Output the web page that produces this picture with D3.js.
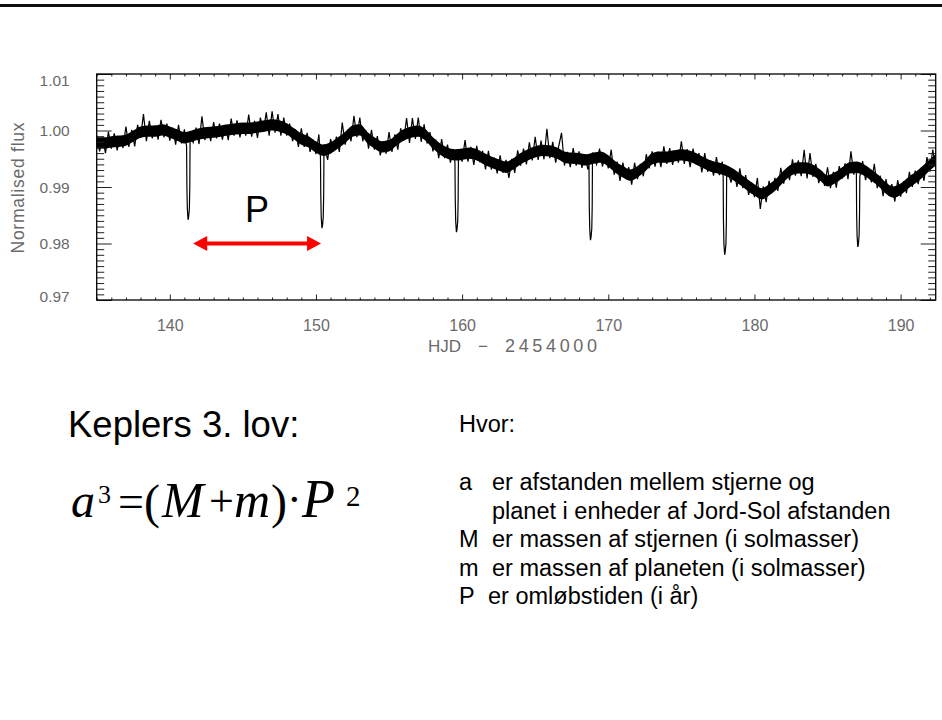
<!DOCTYPE html>
<html>
<head>
<meta charset="utf-8">
<script src="https://cdn.jsdelivr.net/npm/d3@7"></script>
<style>
  html, body { margin: 0; padding: 0; background: #fff; }
  svg { display: block; }
</style>
</head>
<body>
<svg id="chart" width="942" height="720"></svg>
<script>
// ---- Light curve: [HJD - 2454000, normalised flux] ----
const lightCurve = [
  [135.0,0.9991],[135.2,0.9963],[135.4,0.9988],[135.6,0.9960],[135.8,0.9998],[136.0,0.9968],[136.2,0.9995],[136.4,0.9965],
  [136.6,0.9990],[136.8,0.9969],[137.0,1.0007],[137.2,0.9971],[137.4,1.0001],[137.6,0.9972],[137.8,1.0010],[138.0,0.9987],
  [138.2,1.0029],[138.4,0.9981],[138.6,1.0017],[138.8,0.9986],[139.0,1.0009],[139.2,0.9984],[139.4,1.0019],[139.6,0.9988],
  [139.8,1.0012],[140.0,0.9982],[140.2,1.0005],[140.4,0.9975],[140.6,1.0010],[140.8,0.9977],[141.0,1.0002],
  [141.15,0.9972],[141.17,0.9902],[141.2,0.9862],[141.25,0.9842],[141.29,0.9847],[141.34,0.9862],[141.37,0.9902],[141.39,0.9992],
  [141.6,0.9979],[141.8,1.0005],[142.0,0.9976],[142.2,1.0025],[142.4,0.9983],[142.6,1.0006],[142.8,0.9981],[143.0,1.0015],
  [143.2,0.9986],[143.4,1.0012],[143.6,0.9984],[143.8,1.0010],[144.0,0.9983],[144.2,1.0021],[144.4,0.9991],[144.6,1.0018],
  [144.8,0.9988],[145.0,1.0013],[145.2,0.9991],[145.4,1.0028],[145.6,0.9989],[145.8,1.0017],[146.0,0.9987],[146.2,1.0023],
  [146.4,0.9998],[146.6,1.0032],[146.8,0.9991],[147.0,1.0034],[147.2,0.9996],[147.4,1.0029],[147.6,0.9991],[147.8,1.0023],
  [148.0,0.9991],[148.2,1.0012],[148.4,0.9981],[148.6,1.0002],[148.8,0.9971],[149.0,1.0004],[149.2,0.9971],[149.4,0.9996],
  [149.6,0.9962],[149.8,0.9984],[150.0,0.9958],[150.2,0.9993],
  [150.31,0.9952],[150.33,0.9887],[150.36,0.9847],[150.41,0.9827],[150.45,0.9832],[150.5,0.9847],[150.53,0.9887],[150.55,0.9976],
  [150.8,0.9948],[151.0,0.9985],[151.2,0.9963],[151.4,0.9989],[151.6,0.9962],[151.8,1.0014],[152.0,0.9975],[152.2,1.0002],
  [152.4,0.9981],[152.6,1.0026],[152.8,0.9988],[153.0,1.0023],[153.2,0.9981],[153.4,1.0001],[153.6,0.9968],[153.8,1.0001],
  [154.0,0.9966],[154.2,0.9990],[154.4,0.9956],[154.6,0.9980],[154.8,0.9959],[155.0,0.9997],[155.2,0.9962],[155.4,0.9993],
  [155.6,0.9966],[155.8,1.0004],[156.0,0.9982],[156.2,1.0022],[156.4,0.9978],[156.6,1.0022],[156.8,0.9985],[157.0,1.0023],
  [157.2,0.9980],[157.4,1.0011],[157.6,0.9977],[157.8,0.9997],[158.0,0.9963],[158.2,0.9984],[158.4,0.9951],[158.6,0.9985],
  [158.8,0.9951],[159.0,0.9975],[159.2,0.9943],[159.4,0.9967],
  [159.51,0.9943],[159.53,0.9880],[159.56,0.9840],[159.61,0.9820],[159.65,0.9825],[159.7,0.9840],[159.73,0.9880],[159.75,0.9965],
  [160.0,0.9945],[160.2,0.9983],[160.4,0.9945],[160.6,0.9971],[160.8,0.9939],[161.0,0.9973],[161.2,0.9944],[161.4,0.9964],
  [161.6,0.9931],[161.8,0.9964],[162.0,0.9931],[162.2,0.9952],[162.4,0.9924],[162.6,0.9956],[162.8,0.9925],[163.0,0.9948],
  [163.2,0.9916],[163.4,0.9950],[163.6,0.9925],[163.8,0.9965],[164.0,0.9938],[164.2,0.9968],[164.4,0.9940],[164.6,0.9979],
  [164.8,0.9947],[165.0,0.9989],[165.2,0.9948],[165.4,0.9982],[165.6,0.9949],[165.8,1.0003],[166.0,0.9951],[166.2,0.9980],
  [166.4,0.9943],[166.6,0.9971],[166.8,0.9996],[167.0,0.9938],[167.2,0.9962],[167.4,0.9935],[167.6,0.9969],[167.8,0.9938],
  [168.0,0.9963],[168.2,0.9934],[168.4,0.9958],[168.6,0.9931],
  [168.68,0.9940],[168.7,0.9866],[168.73,0.9826],[168.78,0.9806],[168.82,0.9811],[168.87,0.9826],[168.9,0.9866],[168.92,0.9961],
  [169.2,0.9940],[169.4,0.9968],[169.6,0.9936],[169.8,0.9958],[170.0,0.9933],[170.2,0.9966],[170.4,0.9922],[170.6,0.9945],
  [170.8,0.9911],[171.0,0.9943],[171.2,0.9915],[171.4,0.9935],[171.6,0.9904],[171.8,0.9943],[172.0,0.9914],[172.2,0.9941],
  [172.4,0.9919],[172.6,0.9958],[172.8,0.9933],[173.0,0.9963],[173.2,0.9936],[173.4,0.9962],[173.6,0.9935],[173.8,0.9972],
  [174.0,0.9941],[174.2,0.9969],[174.4,0.9939],[174.6,0.9964],[174.8,0.9943],[175.0,0.9981],[175.2,0.9941],[175.4,0.9967],
  [175.6,0.9935],[175.8,0.9968],[176.0,0.9940],[176.2,0.9960],[176.4,0.9926],[176.6,0.9960],[176.8,0.9927],[177.0,0.9947],
  [177.2,0.9920],[177.4,0.9953],[177.6,0.9921],[177.8,0.9945],
  [177.86,0.9918],[177.88,0.9840],[177.91,0.9800],[177.96,0.9780],[178.0,0.9785],[178.05,0.9800],[178.08,0.9840],[178.1,0.9936],
  [178.4,0.9908],[178.6,0.9931],[178.8,0.9900],[179.0,0.9933],[179.2,0.9898],[179.4,0.9921],[179.6,0.9886],[179.8,0.9908],
  [180.0,0.9882],[180.2,0.9916],[180.4,0.9861],[180.6,0.9901],[180.8,0.9873],[181.0,0.9911],[181.2,0.9889],[181.4,0.9916],
  [181.6,0.9893],[181.8,0.9934],[182.0,0.9906],[182.2,0.9933],[182.4,0.9912],[182.6,0.9949],[182.8,0.9920],[183.0,0.9947],
  [183.2,0.9919],[183.4,0.9966],[183.6,0.9915],[183.8,0.9960],[184.0,0.9918],[184.2,0.9941],[184.4,0.9907],[184.6,0.9928],
  [184.8,0.9902],[185.0,0.9935],[185.2,0.9898],[185.4,0.9927],[185.6,0.9899],[185.8,0.9937],[186.0,0.9915],[186.2,0.9942],
  [186.4,0.9914],[186.6,0.9963],[186.8,0.9922],
  [186.97,0.9942],[186.99,0.9854],[187.02,0.9814],[187.07,0.9794],[187.11,0.9799],[187.16,0.9814],[187.19,0.9854],[187.21,0.9918],
  [187.4,0.9946],[187.6,0.9912],[187.8,0.9934],[188.0,0.9908],[188.2,0.9941],[188.4,0.9898],[188.6,0.9920],[188.8,0.9884],
  [189.0,0.9914],[189.2,0.9885],[189.4,0.9905],[189.6,0.9874],[189.8,0.9912],[190.0,0.9883],[190.2,0.9910],[190.4,0.9889],
  [190.6,0.9927],[190.8,0.9900],[191.0,0.9929],[191.2,0.9905],[191.4,0.9934],[191.6,0.9911],[191.8,0.9953],[192.0,0.9927],
  [192.2,0.9966],[192.4,0.9933]
];

// ---- Smoothed stellar variability underneath the scatter ----
const trendHjd = [
  135.0,135.5,136.0,136.5,137.0,137.5,138.0,138.5,139.0,139.5,140.0,140.5,141.0,141.5,142.0,142.5,143.0,143.5,144.0,144.5,
  145.0,145.5,146.0,146.5,147.0,147.5,148.0,148.5,149.0,149.5,150.0,150.5,151.0,151.5,152.0,152.5,153.0,153.5,154.0,154.5,
  155.0,155.5,156.0,156.5,157.0,157.5,158.0,158.5,159.0,159.5,160.0,160.5,161.0,161.5,162.0,162.5,163.0,163.5,164.0,164.5,
  165.0,165.5,166.0,166.5,167.0,167.5,168.0,168.5,169.0,169.5,170.0,170.5,171.0,171.5,172.0,172.5,173.0,173.5,174.0,174.5,
  175.0,175.5,176.0,176.5,177.0,177.5,178.0,178.5,179.0,179.5,180.0,180.5,181.0,181.5,182.0,182.5,183.0,183.5,184.0,184.5,
  185.0,185.5,186.0,186.5,187.0,187.5,188.0,188.5,189.0,189.5,190.0,190.5,191.0,191.5,192.0,192.4
];
const trendFlux = [
  0.9978,0.9978,0.9980,0.9981,0.9983,0.9990,0.9997,0.9999,0.9999,1.0001,0.9997,0.9992,0.9987,0.9990,0.9994,0.9996,0.9997,0.9999,1.0001,1.0003,
  1.0004,1.0004,1.0006,1.0008,1.0010,1.0008,1.0003,0.9994,0.9985,0.9980,0.9971,0.9965,0.9969,0.9978,0.9988,0.9999,1.0001,0.9988,0.9978,0.9971,
  0.9973,0.9983,0.9992,0.9997,0.9999,0.9992,0.9978,0.9967,0.9960,0.9957,0.9958,0.9960,0.9957,0.9950,0.9944,0.9939,0.9935,0.9941,0.9950,0.9957,
  0.9962,0.9965,0.9964,0.9960,0.9953,0.9951,0.9950,0.9948,0.9951,0.9953,0.9946,0.9935,0.9927,0.9921,0.9927,0.9937,0.9950,0.9953,0.9953,0.9955,
  0.9957,0.9955,0.9950,0.9943,0.9937,0.9934,0.9930,0.9923,0.9914,0.9904,0.9895,0.9888,0.9895,0.9905,0.9919,0.9930,0.9934,0.9934,0.9930,0.9921,
  0.9911,0.9916,0.9925,0.9934,0.9935,0.9930,0.9921,0.9911,0.9898,0.9891,0.9896,0.9907,0.9916,0.9927,0.9939,0.9948
];
const scatterHalfWidth = 0.0010;

// ---- Axes ----
const xDomain = [135.0, 192.4];
const yDomain = [0.97, 1.01];
const xTicks = [140, 150, 160, 170, 180, 190];
const yTicks = [0.97, 0.98, 0.99, 1.00, 1.01];
const xLabelParts = ["HJD", "\u2212", "2454000"];
const yLabel = "Normalised flux";

// ---- Orbital period annotation (between the first two transits) ----
const periodSpan = [141.6, 150.35];
const periodFlux = 0.98;
const periodLabel = "P";

// ---- Text block ----
const heading = "Keplers 3. lov:";
const whereHeading = "Hvor:";
const symbols = ["a", "", "M", "m", "P"];
const meanings = [
  "er afstanden mellem stjerne og",
  "planet i enheder af Jord-Sol afstanden",
  "er massen af stjernen (i solmasser)",
  "er massen af planeten (i solmasser)",
  "er oml\u00f8bstiden (i \u00e5r)"
];

const svg = d3.select("#chart");
const plot = { left: 96.7, right: 935.7, top: 74, bottom: 300 };

// Page rule at the top
svg.append("rect").attr("x", 0).attr("y", 4).attr("width", 942).attr("height", 3).attr("fill", "#111");

const x = d3.scaleLinear().domain(xDomain).range([plot.left, plot.right]);
const y = d3.scaleLinear().domain(yDomain).range([plot.bottom, plot.top]);

svg.append("clipPath").attr("id", "plotClip")
  .append("rect")
  .attr("x", plot.left).attr("y", plot.top)
  .attr("width", plot.right - plot.left).attr("height", plot.bottom - plot.top);

const g = svg.append("g").attr("clip-path", "url(#plotClip)");

// Dense core of the photometric scatter
const trend = trendHjd.map((t, i) => [t, trendFlux[i]]);
g.append("path")
  .datum(trend)
  .attr("fill", "#000")
  .attr("d", d3.area()
    .x(d => x(d[0]))
    .y0(d => y(d[1] - scatterHalfWidth))
    .y1(d => y(d[1] + scatterHalfWidth))
    .curve(d3.curveMonotoneX));

// Observed light curve
g.append("path")
  .datum(lightCurve)
  .attr("fill", "none")
  .attr("stroke", "#000")
  .attr("stroke-width", 1.2)
  .attr("stroke-linejoin", "miter")
  .attr("d", d3.line().x(d => x(d[0])).y(d => y(d[1])));

// Axes: majors with labels, minors unlabeled, mirrored on top/right
const tickColor = "#222";
const labelColor = "#6a6a6a";
const labelFont = "Liberation Sans, Arial, sans-serif";

const yMinor = d3.range(0.971, 1.0095, 0.001).filter(v => Math.abs(Math.round(v * 100) - v * 100) > 1e-6);
const xMinor = d3.range(135, 193, 1).filter(v => v % 10 !== 0);

function styleAxis(sel) {
  sel.select(".domain").remove();
  sel.selectAll(".tick line").attr("stroke", tickColor).attr("stroke-width", 1);
}

// left
svg.append("g").attr("transform", `translate(${plot.left},0)`)
  .call(d3.axisLeft(y).tickValues(yTicks).tickSize(-15).tickPadding(27).tickFormat(d3.format(".2f")))
  .call(styleAxis)
  .call(s => s.selectAll("text")
    .attr("fill", labelColor).attr("font-size", 15.5).attr("font-family", labelFont)
    .attr("dy", d => d === yDomain[1] ? "0.75em" : (d === yDomain[0] ? "0.1em" : "0.34em")));
svg.append("g").attr("transform", `translate(${plot.left},0)`)
  .call(d3.axisLeft(y).tickValues(yMinor).tickSize(-7.5).tickFormat(""))
  .call(styleAxis);
// right
svg.append("g").attr("transform", `translate(${plot.right},0)`)
  .call(d3.axisRight(y).tickValues(yTicks).tickSize(-15).tickFormat(""))
  .call(styleAxis);
svg.append("g").attr("transform", `translate(${plot.right},0)`)
  .call(d3.axisRight(y).tickValues(yMinor).tickSize(-7.5).tickFormat(""))
  .call(styleAxis);
// bottom
svg.append("g").attr("transform", `translate(0,${plot.bottom})`)
  .call(d3.axisBottom(x).tickValues(xTicks).tickSize(-5.5).tickPadding(20).tickFormat(d3.format("d")))
  .call(styleAxis)
  .call(s => s.selectAll("text")
    .attr("fill", labelColor).attr("font-size", 16).attr("font-family", labelFont));
svg.append("g").attr("transform", `translate(0,${plot.bottom})`)
  .call(d3.axisBottom(x).tickValues(xMinor).tickSize(-2.5).tickFormat(""))
  .call(styleAxis);
// top
svg.append("g").attr("transform", `translate(0,${plot.top})`)
  .call(d3.axisTop(x).tickValues(xTicks).tickSize(-5.5).tickFormat(""))
  .call(styleAxis);
svg.append("g").attr("transform", `translate(0,${plot.top})`)
  .call(d3.axisTop(x).tickValues(xMinor).tickSize(-2.5).tickFormat(""))
  .call(styleAxis);

// frame
svg.append("rect")
  .attr("x", plot.left).attr("y", plot.top)
  .attr("width", plot.right - plot.left).attr("height", plot.bottom - plot.top)
  .attr("fill", "none").attr("stroke", "#000").attr("stroke-width", 1.3);

// axis titles
const xTitle = svg.append("text")
  .attr("y", 352)
  .attr("font-family", labelFont).attr("font-size", 17)
  .attr("fill", labelColor);
xTitle.append("tspan").attr("x", 428).text(xLabelParts[0]);
xTitle.append("tspan").attr("x", 478).text(xLabelParts[1]);
xTitle.append("tspan").attr("x", 505).attr("font-size", 18).attr("textLength", 92).attr("lengthAdjust", "spacing").text(xLabelParts[2]);

svg.append("text")
  .attr("transform", `translate(24,${(y(0.97) + y(1.01)) / 2 + 1}) rotate(-90)`)
  .attr("text-anchor", "middle")
  .attr("font-family", labelFont).attr("font-size", 17.5)
  .attr("fill", labelColor)
  .attr("textLength", 131).attr("lengthAdjust", "spacing")
  .text(yLabel);

// period arrow
const red = "#ff0000";
const ax0 = x(periodSpan[0]), ax1 = x(periodSpan[1]), ay = y(periodFlux);
const headLen = 14, headHalf = 7.5;
svg.append("line")
  .attr("x1", ax0 + headLen - 1).attr("x2", ax1 - headLen + 1)
  .attr("y1", ay).attr("y2", ay)
  .attr("stroke", red).attr("stroke-width", 4);
svg.append("path")
  .attr("fill", red)
  .attr("d", `M${ax0},${ay} L${ax0 + headLen},${ay - headHalf} L${ax0 + headLen},${ay + headHalf} Z`);
svg.append("path")
  .attr("fill", red)
  .attr("d", `M${ax1},${ay} L${ax1 - headLen},${ay - headHalf} L${ax1 - headLen},${ay + headHalf} Z`);
svg.append("text")
  .attr("x", (ax0 + ax1) / 2).attr("y", ay - 22)
  .attr("text-anchor", "middle")
  .attr("font-family", "Liberation Sans, Arial, sans-serif").attr("font-size", 36)
  .attr("fill", "#000")
  .text(periodLabel);

// ---- Kepler's third law ----
const sans = "Liberation Sans, Arial, sans-serif";
const serif = "Liberation Serif, 'Times New Roman', serif";

svg.append("text")
  .attr("x", 68).attr("y", 437)
  .attr("font-family", sans).attr("font-size", 36.5)
  .attr("fill", "#000")
  .text(heading);

const formula = [
  { s: "a", x: 71, size: 48, it: true, base: 517 },
  { s: "3", x: 98, size: 26, it: false, base: 503 },
  { s: "=", x: 118, size: 46, it: false, base: 517 },
  { s: "(", x: 144, size: 48, it: false, base: 518 },
  { s: "M", x: 162, size: 50, it: true, base: 517 },
  { s: "+", x: 209, size: 44, it: false, base: 516 },
  { s: "m", x: 234, size: 50, it: true, base: 517 },
  { s: ")", x: 271, size: 48, it: false, base: 518 },
  { s: "\u00b7", x: 287, size: 44, it: false, base: 514 },
  { s: "P", x: 302, size: 54, it: true, base: 517 },
  { s: "2", x: 346, size: 29, it: false, base: 506 }
];
svg.append("g").selectAll("text").data(formula).join("text")
  .attr("x", d => d.x).attr("y", d => d.base)
  .attr("font-family", serif)
  .attr("font-size", d => d.size)
  .attr("font-style", d => d.it ? "italic" : "normal")
  .attr("fill", "#000")
  .text(d => d.s);

svg.append("text")
  .attr("x", 459).attr("y", 432)
  .attr("font-family", sans).attr("font-size", 23.5)
  .attr("fill", "#000")
  .text(whereHeading);

const lineBase = [490, 518.5, 547, 575.5, 604];
const defs = svg.append("g").attr("font-family", sans).attr("font-size", 23.5).attr("fill", "#000");
symbols.forEach((s, i) => {
  if (s) defs.append("text").attr("x", 459).attr("y", lineBase[i]).text(s);
  defs.append("text")
    .attr("x", s === "P" ? 488 : 492)
    .attr("y", lineBase[i])
    .text(meanings[i]);
});
</script>
</body>
</html>
